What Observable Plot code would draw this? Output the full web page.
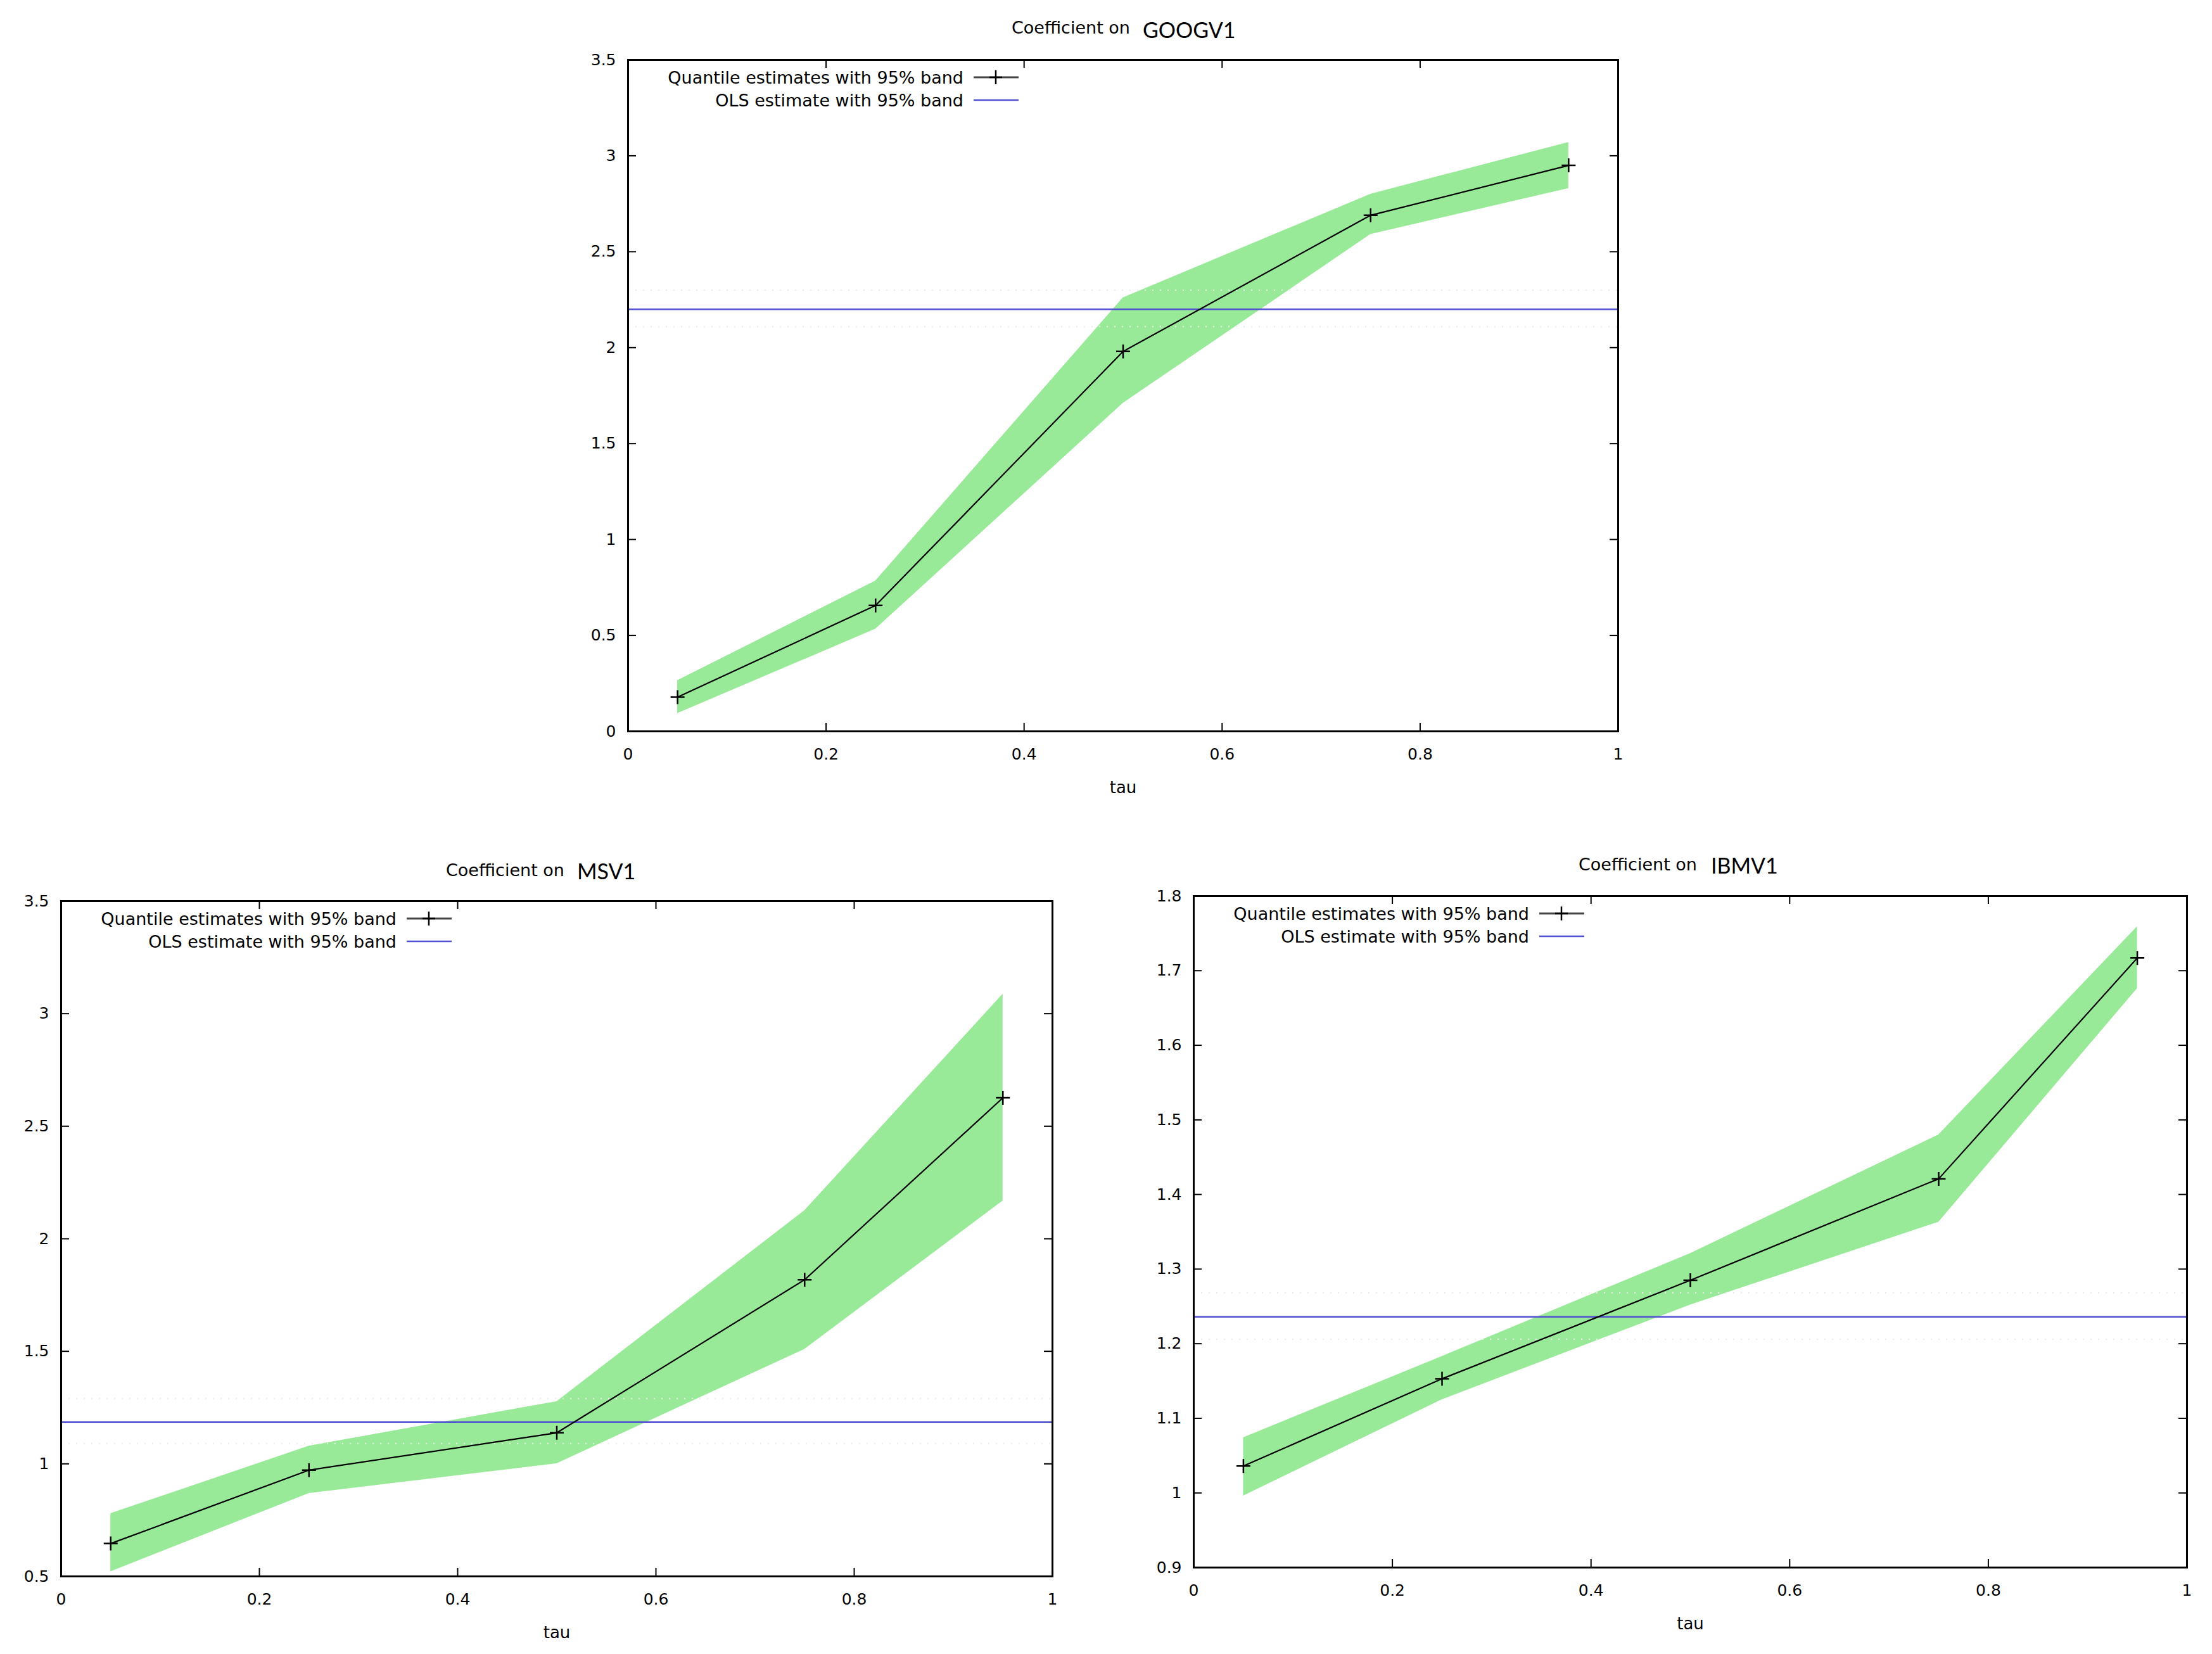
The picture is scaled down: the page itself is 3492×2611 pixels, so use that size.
<!DOCTYPE html>
<html>
<head>
<meta charset="utf-8">
<script src="https://cdn.jsdelivr.net/npm/d3@7"></script>
<script src="https://cdn.jsdelivr.net/npm/@observablehq/plot@0.6"></script>
<style>
  html, body { margin: 0; padding: 0; background: #fff; }
  #root { position: relative; width: 3492px; height: 2611px; background: #fff; overflow: hidden; }
  .panel { position: absolute; }
  .t1 { position: absolute; font-family: "DejaVu Sans", sans-serif; font-size: 27px; line-height: 1; transform: translateY(-50%); color: #000; white-space: nowrap; }
  .t2 { position: absolute; font-family: Lato, "Open Sans", sans-serif; font-size: 34px; line-height: 1; transform: translateY(-50%); color: #000; white-space: nowrap; }
  .leg { position: absolute; font-family: "DejaVu Sans", sans-serif; font-size: 27px; line-height: 1; color: #000; white-space: nowrap; }
</style>
</head>
<body>
<div id="root"></div>
<script>
// ---------------- data ----------------
const tau = [0.05, 0.25, 0.5, 0.75, 0.95];

const googEst = [0.178, 0.656, 1.98, 2.69, 2.95];
const googLo  = [0.093, 0.533, 1.71, 2.59, 2.83];
const googHi  = [0.265, 0.784, 2.26, 2.80, 3.07];
const googOls = [2.20, 2.11, 2.30]; // estimate, lower, upper

const msvEst = [0.646, 0.972, 1.138, 1.818, 2.626];
const msvLo  = [0.521, 0.869, 1.001, 1.509, 2.168];
const msvHi  = [0.779, 1.079, 1.277, 2.125, 3.087];
const msvOls = [1.186, 1.09, 1.29];

const ibmEst = [1.036, 1.153, 1.285, 1.421, 1.717];
const ibmLo  = [0.996, 1.125, 1.252, 1.363, 1.676];
const ibmHi  = [1.074, 1.183, 1.321, 1.480, 1.759];
const ibmOls = [1.236, 1.206, 1.268];

const xTicks = [0, 0.2, 0.4, 0.6, 0.8, 1];
const googYTicks = [0, 0.5, 1, 1.5, 2, 2.5, 3, 3.5];
const msvYTicks = [0.5, 1, 1.5, 2, 2.5, 3, 3.5];
const ibmYTicks = [0.9, 1, 1.1, 1.2, 1.3, 1.4, 1.5, 1.6, 1.7, 1.8];

const names = ["GOOGV1", "MSV1", "IBMV1"];
const titlePrefix = "Coefficient on";
const legendLabels = ["Quantile estimates with 95% band", "OLS estimate with 95% band"];
const xLabel = "tau";

// ---------------- styles / layout ----------------
const GREEN = "#99ea98";
const BLUE = "#5050d0";
const FONT = '"DejaVu Sans", sans-serif';

const panels = [
  { name: names[0], est: googEst, lo: googLo, hi: googHi, ols: googOls, yTicks: googYTicks,
    frame: {left: 991, right: 2554, top: 94, bottom: 1154},
    title: {left: 1597, nameLeft: 1804, y: 43, nameDy: 4} },
  { name: names[1], est: msvEst, lo: msvLo, hi: msvHi, ols: msvOls, yTicks: msvYTicks,
    frame: {left: 96, right: 1661, top: 1422, bottom: 2488},
    title: {left: 704, nameLeft: 911, y: 1373, nameDy: 2} },
  { name: names[2], est: ibmEst, lo: ibmLo, hi: ibmHi, ols: ibmOls, yTicks: ibmYTicks,
    frame: {left: 1884, right: 3452, top: 1414, bottom: 2474},
    title: {left: 2492, nameLeft: 2701, y: 1364, nameDy: 2} }
];

const plusSymbol = {
  draw(ctx, size) {
    const r = Math.sqrt(size / Math.PI);
    ctx.moveTo(-r, 0); ctx.lineTo(r, 0);
    ctx.moveTo(0, -r); ctx.lineTo(0, r);
  }
};

const root = document.getElementById("root");
const fmt = d => String(d);

for (const p of panels) {
  const fr = p.frame;
  const W = fr.right - fr.left, H = fr.bottom - fr.top;
  const mL = 120, mR = 30, mT = 20, mB = 120;
  const rows = tau.map((t, i) => ({tau: t, est: p.est[i], lo: p.lo[i], hi: p.hi[i]}));
  const yDomain = [p.yTicks[0], p.yTicks[p.yTicks.length - 1]];
  const tk = 13;

  const chart = Plot.plot({
    width: W + mL + mR,
    height: H + mT + mB,
    marginLeft: mL, marginRight: mR, marginTop: mT, marginBottom: mB,
    x: {domain: [0, 1]},
    y: {domain: yDomain},
    style: {fontFamily: FONT, fontSize: "25px", color: "black", background: "transparent", overflow: "visible"},
    marks: [
      Plot.areaY(rows, {x: "tau", y1: "lo", y2: "hi", fill: GREEN, fillOpacity: 1}),
      Plot.ruleY([p.ols[1], p.ols[2]], {y: d => d, stroke: "#ececec", strokeWidth: 2, strokeDasharray: "2,10"}),
      Plot.ruleY([p.ols[0]], {y: d => d, stroke: BLUE, strokeWidth: 2.5}),
      Plot.line(rows, {x: "tau", y: "est", stroke: "black", strokeWidth: 2.2}),
      Plot.dot(rows, {x: "tau", y: "est", symbol: plusSymbol, r: 11, stroke: "black", strokeWidth: 2.5, fill: "none"}),
      Plot.tickY(p.yTicks, {y: d => d, insetRight: W - tk, stroke: "black", strokeWidth: 2}),
      Plot.tickY(p.yTicks, {y: d => d, insetLeft: W - tk, stroke: "black", strokeWidth: 2}),
      Plot.tickX(xTicks, {x: d => d, insetTop: H - tk, stroke: "black", strokeWidth: 2}),
      Plot.tickX(xTicks, {x: d => d, insetBottom: H - tk, stroke: "black", strokeWidth: 2}),
      Plot.axisY({ticks: p.yTicks, tickFormat: fmt, tickSize: 0, tickPadding: 19, label: null, fontSize: 25}),
      Plot.axisX({ticks: xTicks, tickFormat: fmt, tickSize: 0, tickPadding: 27, label: null, fontSize: 25}),
      Plot.text([xLabel], {frameAnchor: "bottom", dy: 89, lineAnchor: "middle", fontSize: 26, fill: "black"}),
      Plot.frame({stroke: "black", strokeWidth: 3})
    ]
  });

  const holder = document.createElement("div");
  holder.className = "panel";
  holder.style.left = (fr.left - mL) + "px";
  holder.style.top = (fr.top - mT) + "px";
  holder.appendChild(chart);
  root.appendChild(holder);

  // title
  const t1 = document.createElement("div");
  t1.className = "t1";
  t1.textContent = titlePrefix;
  t1.style.left = p.title.left + "px";
  t1.style.top = p.title.y + "px";
  root.appendChild(t1);
  const t2 = document.createElement("div");
  t2.className = "t2";
  t2.textContent = p.name;
  t2.style.left = p.title.nameLeft + "px";
  t2.style.top = (p.title.y + p.title.nameDy) + "px";
  root.appendChild(t2);

  // legend
  const rowsY = [fr.top + 28, fr.top + 64];
  legendLabels.forEach((lab, i) => {
    const d = document.createElement("div");
    d.className = "leg";
    d.textContent = lab;
    d.style.right = (3492 - (fr.left + 530)) + "px";
    d.style.top = rowsY[i] + "px";
    d.style.transform = "translateY(-50%)";
    root.appendChild(d);

    const ns = "http://www.w3.org/2000/svg";
    const s = document.createElementNS(ns, "svg");
    s.setAttribute("width", 74); s.setAttribute("height", 30);
    s.style.position = "absolute";
    s.style.left = (fr.left + 545) + "px";
    s.style.top = (rowsY[i] - 15) + "px";
    const ln = document.createElementNS(ns, "line");
    ln.setAttribute("x1", 1); ln.setAttribute("x2", 72);
    ln.setAttribute("y1", 15); ln.setAttribute("y2", 15);
    ln.setAttribute("stroke", i === 0 ? "#444" : BLUE);
    ln.setAttribute("stroke-width", i === 0 ? 3 : 2.5);
    s.appendChild(ln);
    if (i === 0) {
      const pl = document.createElementNS(ns, "path");
      pl.setAttribute("d", "M26,15H46M36,4V26");
      pl.setAttribute("stroke", "black");
      pl.setAttribute("stroke-width", 2.5);
      pl.setAttribute("fill", "none");
      s.appendChild(pl);
    }
    root.appendChild(s);
  });
}
</script>
</body>
</html>
